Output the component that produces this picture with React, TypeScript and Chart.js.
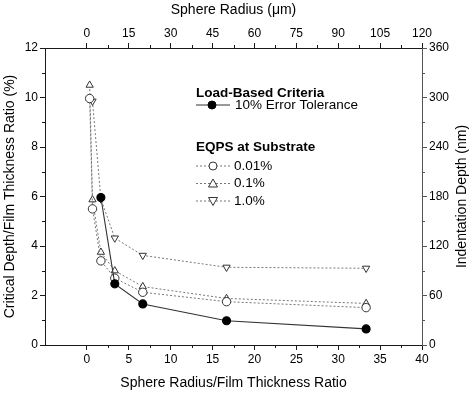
import React, { useEffect, useRef } from 'react';
import { Chart, registerables } from 'chart.js';
Chart.register(...registerables);

// Sphere radius / film thickness ratio positions
const ratioOpen = [0.33, 0.67, 1.67, 3.33, 6.67, 16.67, 33.33];
const eqps001 = [9.96, 5.5, 3.4, 2.7, 2.13, 1.75, 1.51];
const eqps01 = [10.5, 5.87, 3.75, 3.0, 2.36, 1.88, 1.68];
const ratio10 = [0.67, 1.67, 3.33, 6.67, 16.67, 33.33];
const eqps10 = [9.85, 5.9, 4.32, 3.62, 3.14, 3.1];
const ratioLoad = [1.67, 3.33, 6.67, 16.67, 33.33];
const load10 = [5.96, 2.47, 1.66, 0.98, 0.65];

const bottomTicks = [0, 5, 10, 15, 20, 25, 30, 35, 40];
const bottomMinor = [2.5, 7.5, 12.5, 17.5, 22.5, 27.5, 32.5, 37.5];
const topTicks = [0, 15, 30, 45, 60, 75, 90, 105, 120];
const topMinor = [7.5, 22.5, 37.5, 52.5, 67.5, 82.5, 97.5, 112.5];
const leftTicks = [0, 2, 4, 6, 8, 10, 12];
const leftMinor = [1, 3, 5, 7, 9, 11];
const rightTicks = [0, 60, 120, 180, 240, 300, 360];
const rightMinor = [30, 90, 150, 210, 270, 330];

const legendTitle1 = 'Load-Based Criteria';
const legendLoad = '10% Error Tolerance';
const legendTitle2 = 'EQPS at Substrate';
const legendEqps = ['0.01%', '0.1%', '1.0%'];
const rightTitle = 'Indentation Depth (nm)';

const FONT = '"Liberation Sans", Arial, sans-serif';
const AXIS = '#1a1a1a';
const RAXIS = '#555';

const pts = (xs: number[], ys: number[]) => xs.map((x, i) => ({ x, y: ys[i] }));

function drawMarker(ctx: CanvasRenderingContext2D, kind: string, x: number, y: number) {
  ctx.save();
  ctx.lineWidth = 1;
  ctx.strokeStyle = '#333';
  ctx.fillStyle = '#fff';
  ctx.beginPath();
  if (kind === 'filled') {
    ctx.fillStyle = '#000';
    ctx.strokeStyle = '#000';
    ctx.arc(x, y, 4, 0, Math.PI * 2);
  } else if (kind === 'circle') {
    ctx.arc(x, y, 4, 0, Math.PI * 2);
  } else if (kind === 'up') {
    ctx.moveTo(x, y - 4.5);
    ctx.lineTo(x + 4.5, y + 3.5);
    ctx.lineTo(x - 4.5, y + 3.5);
    ctx.closePath();
  } else {
    ctx.moveTo(x, y + 4.5);
    ctx.lineTo(x + 4.5, y - 3.5);
    ctx.lineTo(x - 4.5, y - 3.5);
    ctx.closePath();
  }
  ctx.fill();
  ctx.stroke();
  ctx.restore();
}

const legendPlugin = {
  id: 'customLegend',
  afterDraw(chart: any) {
    const ctx = chart.ctx as CanvasRenderingContext2D;
    ctx.save();
    ctx.textBaseline = 'middle';
    ctx.textAlign = 'left';
    ctx.fillStyle = '#000';
    ctx.font = `bold 13.5px ${FONT}`;
    ctx.fillText(legendTitle1, 196, 93);
    ctx.fillText(legendTitle2, 196, 147);
    ctx.font = `13.5px ${FONT}`;
    ctx.strokeStyle = '#333';
    ctx.lineWidth = 1;
    ctx.setLineDash([]);
    ctx.beginPath();
    ctx.moveTo(196, 105);
    ctx.lineTo(230, 105);
    ctx.stroke();
    drawMarker(ctx, 'filled', 212, 105);
    ctx.fillText(legendLoad, 235, 105);
    const kinds = ['circle', 'up', 'down'];
    const ys = [166, 183.5, 201];
    kinds.forEach((k, i) => {
      ctx.strokeStyle = '#777';
      ctx.setLineDash([2, 2]);
      ctx.beginPath();
      ctx.moveTo(196, ys[i]);
      ctx.lineTo(232, ys[i]);
      ctx.stroke();
      ctx.setLineDash([]);
      drawMarker(ctx, k, 213, ys[i]);
      ctx.fillStyle = '#000';
      ctx.fillText(legendEqps[i], 234, ys[i]);
    });
    // right axis title, reading bottom-to-top
    const a = chart.chartArea;
    ctx.translate(462, (a.top + a.bottom) / 2);
    ctx.rotate(-Math.PI / 2);
    ctx.textAlign = 'center';
    ctx.font = `14px ${FONT}`;
    ctx.fillText(rightTitle, 0, 0);
    ctx.restore();
  },
};

const minorPlugin = {
  id: 'minorTicks',
  afterDraw(chart: any) {
    const ctx = chart.ctx as CanvasRenderingContext2D;
    const a = chart.chartArea;
    ctx.save();
    ctx.lineWidth = 1;
    const L = 3;
    ctx.strokeStyle = AXIS;
    ctx.beginPath();
    bottomMinor.forEach((v) => {
      const p = Math.round(chart.scales.x.getPixelForValue(v)) + 0.5;
      ctx.moveTo(p, a.bottom);
      ctx.lineTo(p, a.bottom + L);
    });
    topMinor.forEach((v) => {
      const p = Math.round(chart.scales.x2.getPixelForValue(v)) + 0.5;
      ctx.moveTo(p, a.top);
      ctx.lineTo(p, a.top - L);
    });
    leftMinor.forEach((v) => {
      const p = Math.round(chart.scales.y.getPixelForValue(v)) + 0.5;
      ctx.moveTo(a.left, p);
      ctx.lineTo(a.left - L, p);
    });
    ctx.stroke();
    ctx.strokeStyle = RAXIS;
    ctx.beginPath();
    rightMinor.forEach((v) => {
      const p = Math.round(chart.scales.y2.getPixelForValue(v)) + 0.5;
      ctx.moveTo(a.right, p);
      ctx.lineTo(a.right + L, p);
    });
    ctx.stroke();
    ctx.restore();
  },
};

const setTicks = (arr: number[]) => (scale: any) => {
  scale.ticks = arr.map((v) => ({ value: v }));
};

const axisCommon = {
  grid: { drawOnChartArea: false, drawTicks: true, tickLength: 5, color: AXIS, tickColor: AXIS },
  border: { color: AXIS, width: 1 },
  ticks: { color: '#000', font: { size: 12, family: FONT }, padding: 2, maxRotation: 0, autoSkip: false },
  title: { display: true, color: '#000', font: { size: 14, family: FONT }, padding: { top: 2, bottom: 2 } },
};

export default function App() {
  const ref = useRef<HTMLCanvasElement>(null);
  useEffect(() => {
    document.body.style.margin = '0';
    const ctx = ref.current!.getContext('2d')!;
    const openDs = (label: string, data: any[], style: string, rot = 0) => ({
      label,
      data,
      xAxisID: 'x',
      yAxisID: 'y',
      borderColor: '#777',
      borderWidth: 1,
      borderDash: [2, 2],
      pointStyle: style,
      pointRotation: rot,
      pointRadius: 4.2,
      pointBorderColor: '#333',
      pointBackgroundColor: '#fff',
      pointBorderWidth: 1,
      tension: 0,
      fill: false,
    });
    const chart = new Chart(ctx, {
      type: 'line',
      data: {
        datasets: [
          {
            label: legendLoad,
            data: pts(ratioLoad, load10),
            xAxisID: 'x',
            yAxisID: 'y',
            borderColor: '#333',
            borderWidth: 1.1,
            pointStyle: 'circle',
            pointRadius: 4,
            pointBackgroundColor: '#000',
            pointBorderColor: '#000',
            tension: 0,
            fill: false,
          },
          openDs(legendEqps[0], pts(ratioOpen, eqps001), 'circle'),
          openDs(legendEqps[1], pts(ratioOpen, eqps01), 'triangle'),
          openDs(legendEqps[2], pts(ratio10, eqps10), 'triangle', 180),
        ] as any,
      },
      options: {
        responsive: false,
        animation: false,
        layout: { padding: 0 },
        plugins: { legend: { display: false }, tooltip: { enabled: false } },
        scales: {
          x: {
            ...axisCommon,
            type: 'linear',
            position: 'bottom',
            min: -5,
            max: 40,
            afterBuildTicks: setTicks(bottomTicks),
            afterFit: (s: any) => { s.height = 49; },
            title: { ...axisCommon.title, text: 'Sphere Radius/Film Thickness Ratio' },
          },
          x2: {
            ...axisCommon,
            type: 'linear',
            position: 'top',
            min: -15,
            max: 120,
            afterBuildTicks: setTicks(topTicks),
            afterFit: (s: any) => { s.height = 48; },
            title: { ...axisCommon.title, text: 'Sphere Radius (μm)' },
          },
          y: {
            ...axisCommon,
            type: 'linear',
            position: 'left',
            min: 0,
            max: 12,
            afterBuildTicks: setTicks(leftTicks),
            afterFit: (s: any) => { s.width = 45; },
            title: { ...axisCommon.title, text: 'Critical Depth/Film Thickness Ratio (%)' },
          },
          y2: {
            ...axisCommon,
            grid: { ...axisCommon.grid, color: RAXIS, tickColor: RAXIS },
            border: { color: RAXIS, width: 1 },
            type: 'linear',
            position: 'right',
            min: 0,
            max: 360,
            afterBuildTicks: setTicks(rightTicks),
            afterFit: (s: any) => { s.width = 52; },
            title: { display: false },
          },
        } as any,
      },
      plugins: [minorPlugin, legendPlugin],
    });
    return () => chart.destroy();
  }, []);
  return <canvas ref={ref} width={474} height={394} style={{ display: 'block' }} />;
}
